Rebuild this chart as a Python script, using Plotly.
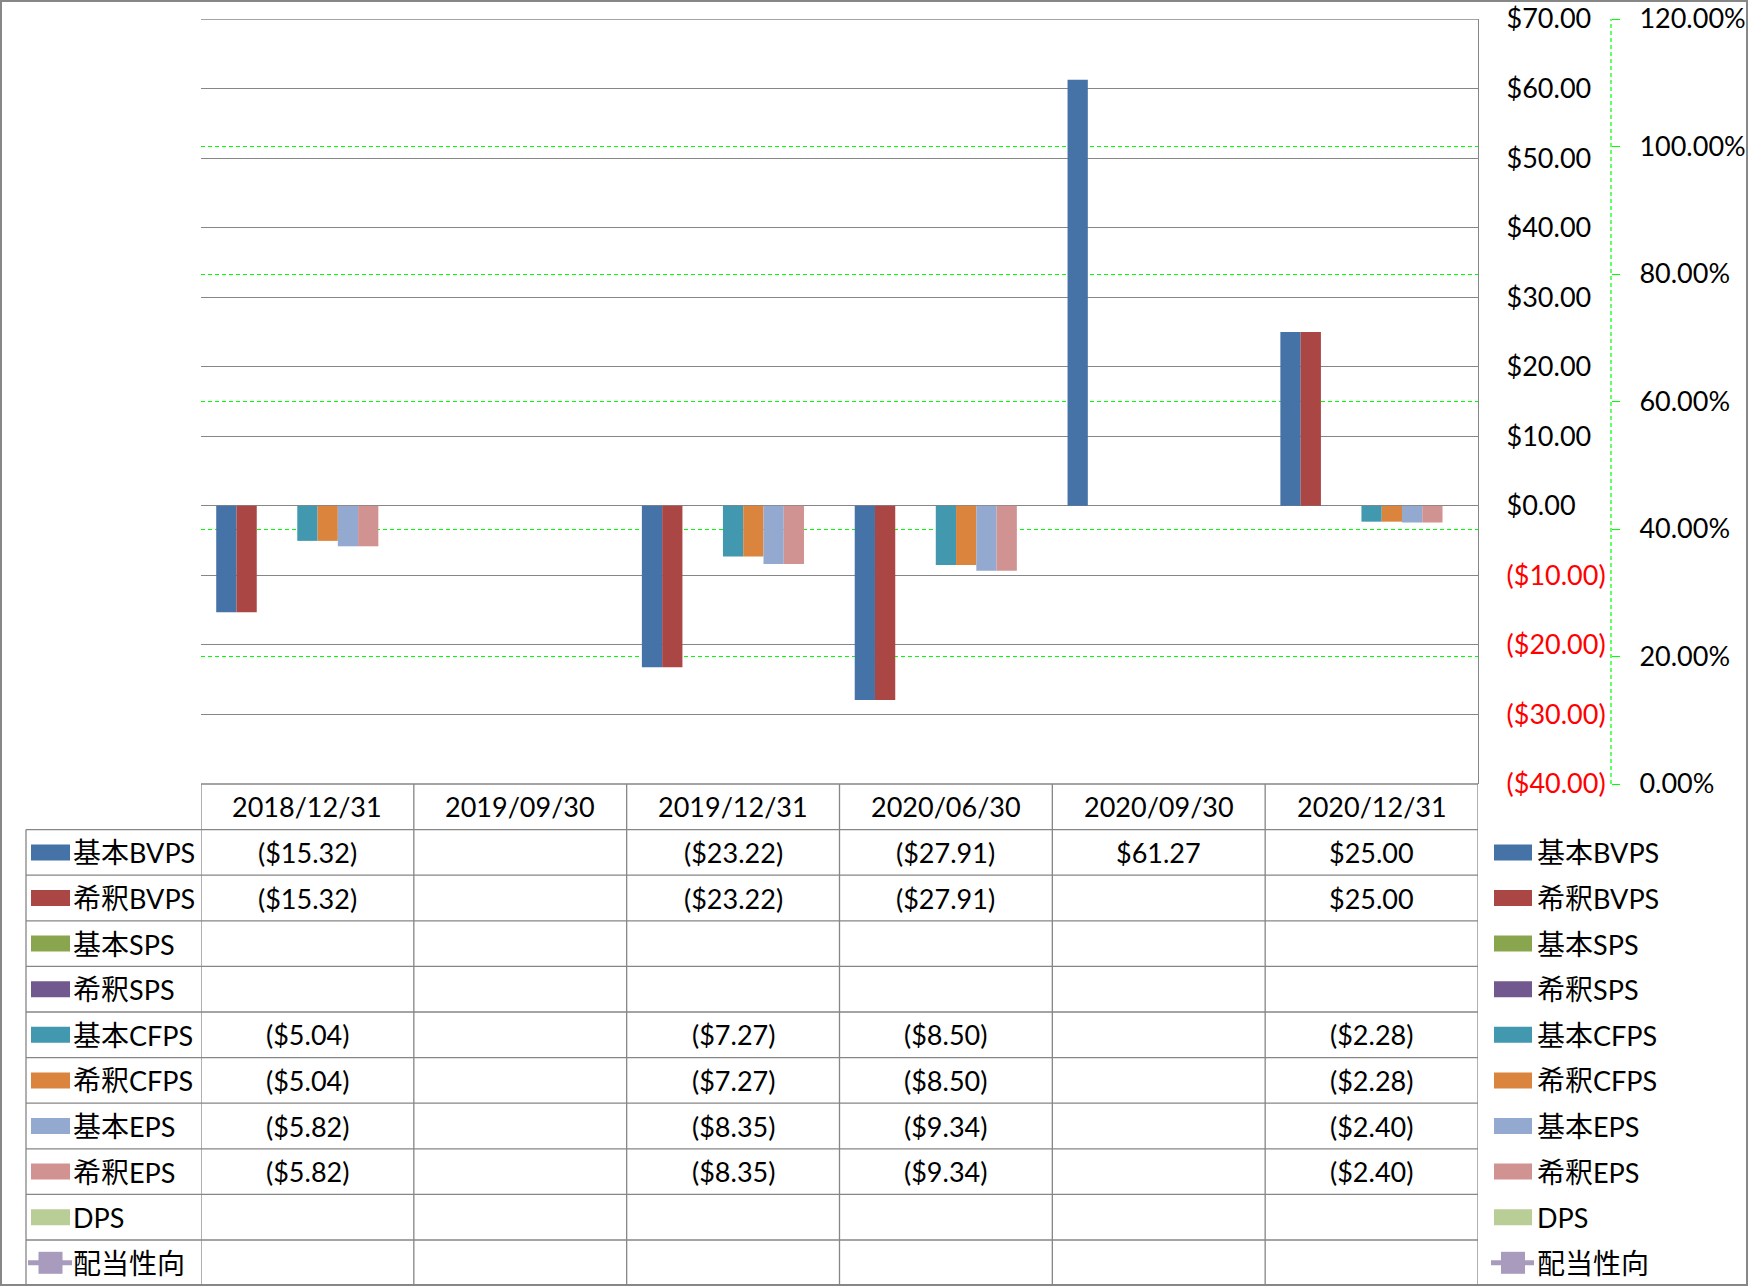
import plotly.graph_objects as go

# ---------------- data ----------------
categories = ["2018/12/31", "2019/09/30", "2019/12/31", "2020/06/30", "2020/09/30", "2020/12/31"]

basic_bvps = [-15.32, None, -23.22, -27.91, 61.27, 25.00]
dil_bvps = [-15.32, None, -23.22, -27.91, None, 25.00]
basic_sps = [None, None, None, None, None, None]
dil_sps = [None, None, None, None, None, None]
basic_cfps = [-5.04, None, -7.27, -8.50, None, -2.28]
dil_cfps = [-5.04, None, -7.27, -8.50, None, -2.28]
basic_eps = [-5.82, None, -8.35, -9.34, None, -2.40]
dil_eps = [-5.82, None, -8.35, -9.34, None, -2.40]
dps = [None, None, None, None, None, None]
payout_ratio = [None, None, None, None, None, None]

bar_names = ["基本BVPS", "希釈BVPS", "基本SPS", "希釈SPS", "基本CFPS", "希釈CFPS", "基本EPS", "希釈EPS", "DPS"]
bar_values = [basic_bvps, dil_bvps, basic_sps, dil_sps, basic_cfps, dil_cfps, basic_eps, dil_eps, dps]
bar_colors = ["#4572A7", "#AA4643", "#89A54E", "#71588F", "#4198AF", "#DB843D", "#93A9CF", "#D19392", "#B9CD96"]
line_name = "配当性向"
line_color = "#A99BBD"

y_ticks = [-40, -30, -20, -10, 0, 10, 20, 30, 40, 50, 60, 70]
y2_ticks = [0.0, 0.2, 0.4, 0.6, 0.8, 1.0, 1.2]

# ---------------- layout geometry ----------------
W, H = 1748, 1286
FONT = "Lato, 'Noto Sans CJK JP', sans-serif"
FS = 27
CJK_FS = 28
GRID = "#868686"
GREEN = "#00FF00"
GREEN_DASH = "4px,3px"


def px(x):
    return x / W


def py(y):
    return 1 - y / H


PLOT_L, PLOT_R = 201, 1478
PLOT_T, PLOT_B = 19, 784
ROW_H = 45.6
LEG_L = 26


def money(v):
    if v is None:
        return ""
    s = "${:,.2f}".format(abs(v))
    return "(" + s + ")" if v < 0 else s


def label_html(name):
    out = ""
    cjk = ""
    for ch in name:
        if ord(ch) > 0x2E80:
            cjk += ch
        else:
            if cjk:
                out += '<span style="font-size:%dpx">%s</span>' % (CJK_FS, cjk)
                cjk = ""
            out += ch
    if cjk:
        out += '<span style="font-size:%dpx">%s</span>' % (CJK_FS, cjk)
    return out


fig = go.Figure()
for name, vals, col in zip(bar_names, bar_values, bar_colors):
    fig.add_trace(go.Bar(x=categories, y=vals, name=name, marker=dict(color=col, line=dict(width=0)),
                         showlegend=False))
fig.add_trace(go.Scatter(x=categories, y=payout_ratio, name=line_name, yaxis="y2", mode="lines+markers",
                         line=dict(color=line_color, width=4), marker=dict(symbol="square", size=14, color=line_color),
                         showlegend=False))

ticktext = []
for t in y_ticks:
    if t < 0:
        ticktext.append('<span style="color:#FF0000">' + money(t) + "</span>")
    else:
        ticktext.append(money(t))

shapes = []
annotations = []

# outer border
shapes.append(dict(type="rect", xref="paper", yref="paper", x0=px(1), x1=px(W - 1), y0=py(H - 1), y1=py(1),
                   line=dict(color="#878787", width=2), layer="above"))

# top gridline (edge of range)
shapes.append(dict(type="line", xref="paper", yref="y", x0=px(PLOT_L), x1=px(PLOT_R), y0=max(y_ticks),
                   y1=max(y_ticks), line=dict(color=GRID, width=1.3)))

# secondary axis dashed line
shapes.append(dict(type="line", xref="paper", yref="paper", x0=px(1611), x1=px(1611), y0=py(PLOT_B), y1=py(PLOT_T),
                   line=dict(color=GREEN, width=1.2, dash=GREEN_DASH)))

# table: header top line (data columns only)
shapes.append(dict(type="line", xref="paper", yref="paper", x0=px(PLOT_L), x1=px(PLOT_R), y0=py(PLOT_B), y1=py(PLOT_B),
                   line=dict(color=GRID, width=1.3)))
# row lines
n_rows = len(bar_names) + 1
for r in range(1, n_rows + 1):
    yy = PLOT_B + ROW_H * r
    shapes.append(dict(type="line", xref="paper", yref="paper", x0=px(LEG_L), x1=px(PLOT_R), y0=py(yy), y1=py(yy),
                       line=dict(color=GRID, width=1.3)))
# vertical lines
shapes.append(dict(type="line", xref="paper", yref="paper", x0=px(LEG_L), x1=px(LEG_L), y0=py(PLOT_B + ROW_H),
                   y1=py(H), line=dict(color=GRID, width=1.3)))
for k in range(len(categories) + 1):
    shapes.append(dict(type="line", xref="x", yref="paper", x0=k - 0.5, x1=k - 0.5, y0=py(PLOT_B), y1=py(H),
                       line=dict(color=GRID, width=1.3)))

# header text
for c in categories:
    annotations.append(dict(x=c, xref="x", y=py(PLOT_B + ROW_H / 2), yref="paper", text=c, showarrow=False,
                            font=dict(family=FONT, size=FS, color="black"), xanchor="center", yanchor="middle"))

all_names = bar_names + [line_name]
all_colors = bar_colors + [line_color]
all_vals = bar_values + [payout_ratio]

for i, (name, col, vals) in enumerate(zip(all_names, all_colors, all_vals)):
    yc = PLOT_B + ROW_H * (i + 1) + ROW_H / 2
    # cell values
    for c, v in zip(categories, vals):
        if v is not None:
            annotations.append(dict(x=c, xref="x", y=py(yc), yref="paper", text=money(v), showarrow=False,
                                    font=dict(family=FONT, size=FS, color="black"), xanchor="center",
                                    yanchor="middle"))
    # legend keys: in table and on right
    for (sx0, sx1, tx) in [(31, 70, 71), (1494, 1532, 1535)]:
        if i < len(bar_names):
            shapes.append(dict(type="rect", xref="paper", yref="paper", x0=px(sx0), x1=px(sx1), y0=py(yc + 8),
                               y1=py(yc - 8), line=dict(width=0), fillcolor=col, layer="above"))
        else:
            shapes.append(dict(type="line", xref="paper", yref="paper", x0=px(sx0 - 3), x1=px(sx1 + 2), y0=py(yc),
                               y1=py(yc), line=dict(color=col, width=5), layer="above"))
            mid = (sx0 + sx1) / 2
            shapes.append(dict(type="rect", xref="paper", yref="paper", x0=px(mid - 12), x1=px(mid + 12),
                               y0=py(yc + 11), y1=py(yc - 11), line=dict(width=0), fillcolor=col, layer="above"))
        annotations.append(dict(x=px(tx), xref="paper", y=py(yc), yref="paper", text=label_html(name),
                                showarrow=False, font=dict(family=FONT, size=FS, color="black"), xanchor="left",
                                yanchor="middle"))

fig.update_layout(
    template="none",
    width=W, height=H, autosize=False, margin=dict(l=0, r=0, t=0, b=0, pad=0),
    paper_bgcolor="white", plot_bgcolor="white",
    font=dict(family=FONT, size=FS, color="black"),
    barmode="group", bargap=0.143, bargroupgap=0,
    xaxis=dict(domain=[px(PLOT_L), px(PLOT_R)], type="category", categoryarray=categories, range=[-0.5, 5.5],
               showticklabels=False, showgrid=False, zeroline=False, showline=False, ticks="", automargin=False),
    yaxis=dict(domain=[py(PLOT_B), py(PLOT_T)], range=[-40, 70], side="right", anchor="x",
               tickvals=y_ticks, ticktext=ticktext, showgrid=True, gridcolor=GRID, gridwidth=1.3,
               zeroline=False, showline=True, linecolor=GRID, linewidth=1.3, ticks="", ticklabelstandoff=22,
               automargin=False, tickfont=dict(family=FONT, size=FS, color="black")),
    yaxis2=dict(domain=[py(PLOT_B), py(PLOT_T)], range=[0, 1.2], overlaying="y", side="right", anchor="free",
                position=px(1611), tickvals=y2_ticks, tickformat=".2%", showgrid=True, gridcolor=GREEN,
                griddash=GREEN_DASH, gridwidth=1.2, zeroline=False, showline=False, ticks="outside", ticklen=8,
                tickcolor=GREEN, tickwidth=1, ticklabelstandoff=14, automargin=False,
                tickfont=dict(family=FONT, size=FS, color="black")),
    shapes=shapes, annotations=annotations, showlegend=False,
)

fig.write_html(
    "out.html",
    config={"displayModeBar": False},
    post_script="document.body.style.margin='0px';document.body.style.overflow='hidden';"
                "document.documentElement.style.overflow='hidden';",
)
